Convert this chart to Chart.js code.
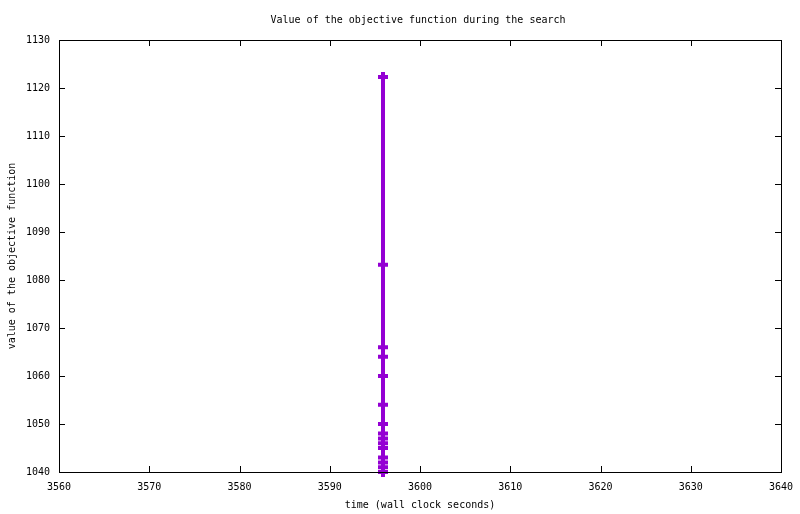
<!DOCTYPE html>
<html>
<head>
<meta charset="utf-8">
<script src="https://cdn.jsdelivr.net/npm/chart.js@4"></script>
<style>
  html, body { margin: 0; padding: 0; background: #fff; }
  #wrap { width: 800px; height: 514px; }
</style>
</head>
<body>
<div id="wrap"><canvas id="objChart" width="800" height="514"></canvas></div>
<script>
/* ================= DATA ================= */

const searchTimes = [3595.9, 3595.9, 3595.9, 3595.9, 3595.9, 3595.9, 3595.9, 3595.9,
                     3595.9, 3595.9, 3595.9, 3595.9, 3595.9, 3595.9, 3595.9];
const objectiveValues = [1122.3, 1083.2, 1066, 1064, 1060, 1054, 1050, 1048,
                         1047, 1046, 1045, 1043, 1042, 1041, 1040];
const xTicks = [3560, 3570, 3580, 3590, 3600, 3610, 3620, 3630, 3640];
const yTicks = [1040, 1050, 1060, 1070, 1080, 1090, 1100, 1110, 1120, 1130];
const chartTitle = "Value of the objective function during the search";

const FONT = "'DejaVu Sans Mono', 'Liberation Mono', monospace";
const LINE_COLOR = "#9400d3";

/* ================= FRAME + INWARD TICKS + TITLE ================= */

const gnuFrame = {
    id: "gnuFrame",
    afterDraw(chart) {
        const { ctx, chartArea: a, scales } = chart;
        ctx.save();
        ctx.strokeStyle = "#000";
        ctx.lineWidth = 1;
        ctx.strokeRect(a.left + 0.5, a.top + 0.5, a.right - a.left, a.bottom - a.top);
        ctx.beginPath();
        xTicks.forEach(v => {
            const x = Math.round(scales.x.getPixelForValue(v)) + 0.5;
            ctx.moveTo(x, a.bottom); ctx.lineTo(x, a.bottom - 6);
            ctx.moveTo(x, a.top); ctx.lineTo(x, a.top + 6);
        });
        yTicks.forEach(v => {
            const y = Math.round(scales.y.getPixelForValue(v)) + 0.5;
            ctx.moveTo(a.left, y); ctx.lineTo(a.left + 6, y);
            ctx.moveTo(a.right, y); ctx.lineTo(a.right - 6, y);
        });
        ctx.stroke();

        ctx.fillStyle = "#000";
        ctx.font = "10px " + FONT;
        ctx.textAlign = "center";
        ctx.textBaseline = "middle";
        ctx.fillText(chartTitle, (a.left + a.right) / 2 - 2, 20);
        ctx.restore();
    }
};

/* ================= CHART ================= */

const points = searchTimes.map((t, i) => ({ x: t, y: objectiveValues[i] }));

new Chart(document.getElementById("objChart"), {
    type: "line",
    data: {
        datasets: [{
            data: points,
            borderColor: LINE_COLOR,
            backgroundColor: LINE_COLOR,
            borderWidth: 4,
            pointStyle: "cross",
            pointRadius: 5,
            pointBorderWidth: 4,
            pointBorderColor: LINE_COLOR,
            clip: false,
            tension: 0
        }]
    },
    options: {
        responsive: false,
        animation: false,
        events: [],
        layout: { padding: { left: 0, right: 19, top: 40, bottom: 0 } },
        plugins: {
            legend: { display: false },
            tooltip: { enabled: false },
            title: { display: false }
        },
        scales: {
            x: {
                type: "linear",
                min: 3560,
                max: 3640,
                afterFit: s => { s.height = 42; s.paddingLeft = 0; s.paddingRight = 0; },
                afterBuildTicks: s => { s.ticks = xTicks.map(v => ({ value: v })); },
                grid: { display: false, drawTicks: false },
                border: { display: false },
                ticks: {
                    color: "#000",
                    padding: 9,
                    maxRotation: 0,
                    callback: v => String(v),
                    font: { family: FONT, size: 10 }
                },
                title: {
                    display: true,
                    text: "time (wall clock seconds)",
                    color: "#000",
                    font: { family: FONT, size: 10 },
                    padding: { top: 0, bottom: 3 }
                }
            },
            y: {
                type: "linear",
                min: 1040,
                max: 1130,
                afterFit: s => { s.width = 59; s.paddingTop = 0; s.paddingBottom = 0; },
                afterBuildTicks: s => { s.ticks = yTicks.map(v => ({ value: v })); },
                grid: { display: false, drawTicks: false },
                border: { display: false },
                ticks: {
                    color: "#000",
                    padding: 9,
                    callback: v => String(v),
                    font: { family: FONT, size: 10 }
                },
                title: {
                    display: true,
                    text: "value of the objective function",
                    color: "#000",
                    font: { family: FONT, size: 10 },
                    padding: { top: 6, bottom: 0 }
                }
            }
        }
    },
    plugins: [gnuFrame]
});
</script>
</body>
</html>
